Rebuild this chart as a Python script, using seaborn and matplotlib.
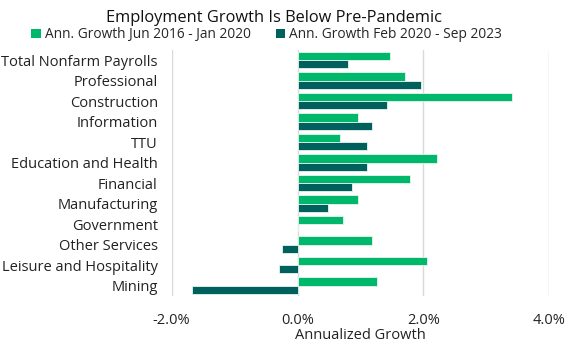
import matplotlib
matplotlib.use("Agg")
import matplotlib.pyplot as plt
import seaborn as sns
import pandas as pd
from matplotlib.patches import Patch

categories = ["Total Nonfarm Payrolls", "Professional", "Construction", "Information", "TTU",
              "Education and Health", "Financial", "Manufacturing", "Government",
              "Other Services", "Leisure and Hospitality", "Mining"]
pre = [1.47, 1.70, 3.41, 0.96, 0.67, 2.22, 1.79, 0.96, 0.72, 1.19, 2.05, 1.26]
post = [0.80, 1.96, 1.42, 1.18, 1.11, 1.10, 0.87, 0.48, 0.0, -0.25, -0.30, -1.67]
series = ["Ann. Growth Jun 2016 - Jan 2020", "Ann. Growth Feb 2020 - Sep 2023"]
colors = ["#00B86B", "#00605E"]
xticks = [-2, 0, 2, 4]
xticklabels = ["-2.0%", "0.0%", "2.0%", "4.0%"]

df = pd.DataFrame({
    "Category": categories * 2,
    "Value": pre + post,
    "Series": [series[0]] * len(categories) + [series[1]] * len(categories),
})

sns.set_theme(style="white")
plt.rcParams["font.family"] = ["Open Sans", "DejaVu Sans"]

fig = plt.figure(figsize=(5.8, 3.49), dpi=100)
ax = fig.add_axes([0.296, 0.152, 0.651, 0.705])
sns.barplot(data=df, y="Category", x="Value", hue="Series", orient="h",
            palette=colors, saturation=1, width=0.8, edgecolor="#e8f5ee", linewidth=0.6,
            legend=False, ax=ax)

ax.set_xlim(-2, 4)
ax.set_xticks(xticks)
ax.set_xticklabels(xticklabels, fontsize=10.5, color="#222222")
ax.xaxis.grid(True, color="#d9d9d9", linewidth=1)
ax.set_axisbelow(True)
for s in ax.spines.values():
    s.set_visible(False)
ax.tick_params(axis="both", length=0)
ax.tick_params(axis="y", labelsize=10.5, labelcolor="#222222", pad=10)
ax.tick_params(axis="x", pad=12)
ax.set_ylabel("")
ax.set_xlabel("Annualized Growth", fontsize=10.5, color="#222222", labelpad=0)

fig.text(0.472, 0.947, "Employment Growth Is Below Pre-Pandemic", ha="center", va="center",
         fontsize=11.8, color="#111111")
handles = [Patch(facecolor=c, edgecolor="none") for c in colors]
fig.legend(handles, series, loc="center", bbox_to_anchor=(0.46, 0.9), ncol=2,
           frameon=False, fontsize=9.9, handlelength=0.7, handleheight=0.7,
           handletextpad=0.3, columnspacing=1.8, borderaxespad=0)

fig.savefig("out.png", dpi=100)
